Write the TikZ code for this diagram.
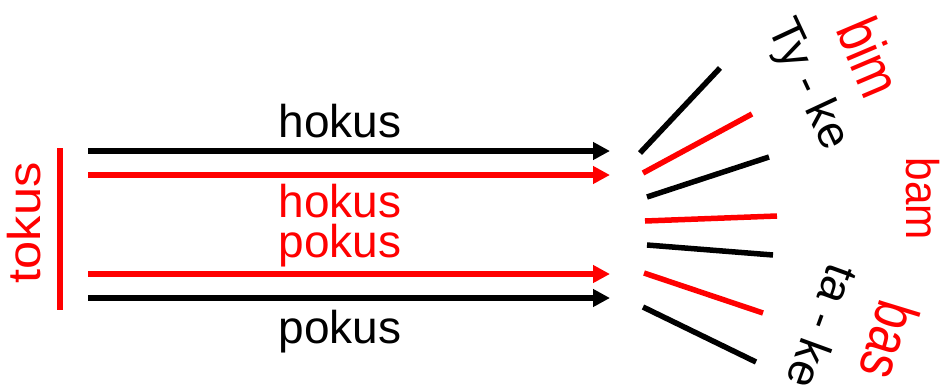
\documentclass[tikz,border=0pt]{standalone}
\usepackage{fontspec}
\setmainfont{Liberation Sans}
\usetikzlibrary{arrows.meta}
\definecolor{myred}{RGB}{255,0,0}
\begin{document}
\begin{tikzpicture}[x=1pt,y=-1pt,
  lbl/.style={font=\fontsize{46}{46}\selectfont, inner sep=0pt},
  arr/.style={line width=5.5pt, -{Triangle[length=17pt,width=17pt]}},
  fan/.style={line width=5.5pt},
  blk/.style={black},
  rd/.style={myred}]
\useasboundingbox (0,0) rectangle (946,389);
% arrows
\coordinate (a1s) at (88,151);  \coordinate (a1e) at (610,151);
\coordinate (a2s) at (88,175);  \coordinate (a2e) at (610,175);
\coordinate (a3s) at (88,274);  \coordinate (a3e) at (610,274);
\coordinate (a4s) at (88,298);  \coordinate (a4e) at (610,298);
\draw[arr,blk] (a1s) -- (a1e);
\draw[arr,rd]  (a2s) -- (a2e);
\draw[arr,rd]  (a3s) -- (a3e);
\draw[arr,blk] (a4s) -- (a4e);
% vertical bar
\coordinate (vt) at (60,148); \coordinate (vb) at (60,310);
\draw[rd,line width=5.5pt] (vt) -- (vb);
\node[lbl,rd,rotate=90,xscale=1.1] (tokus) at (24,223) {tokus};
% labels
\node[lbl,blk,anchor=base] (h1) at (340,137) {hokus};
\node[lbl,rd,anchor=base]  (h2) at (340,217) {hokus};
\node[lbl,rd,anchor=base]  (p1) at (340,257) {pokus};
\node[lbl,blk,anchor=base] (p2) at (340,343) {pokus};
% fan
\coordinate (f1s) at (640,153); \coordinate (f1e) at (720,68);
\coordinate (f2s) at (643,173); \coordinate (f2e) at (752,114);
\coordinate (f3s) at (647,197); \coordinate (f3e) at (769,157);
\coordinate (f4s) at (645,221); \coordinate (f4e) at (777,216);
\coordinate (f5s) at (647,245); \coordinate (f5e) at (773,255);
\coordinate (f6s) at (644,273); \coordinate (f6e) at (763,313);
\coordinate (f7s) at (643,307); \coordinate (f7e) at (756,362);
\draw[fan,blk] (f1s) -- (f1e);
\draw[fan,rd]  (f2s) -- (f2e);
\draw[fan,blk] (f3s) -- (f3e);
\draw[fan,rd]  (f4s) -- (f4e);
\draw[fan,blk] (f5s) -- (f5e);
\draw[fan,rd]  (f6s) -- (f6e);
\draw[fan,blk] (f7s) -- (f7e);
% rotated words
\node[lbl,blk,rotate=-65]  (tyke) at (807,85) {Ty - ke};
\node[lbl,rd,rotate=-67,xscale=1.05,yscale=1.3]  (bim) at (870,57) {bim};
\node[lbl,rd,rotate=-90,xscale=0.92]             (bam) at (923,199) {bam};
\node[lbl,blk,rotate=-110] (take) at (823,327) {ta - ke};
\node[lbl,rd,rotate=-107,xscale=1.05,yscale=1.3] (bas) at (890,341) {bas};
\end{tikzpicture}
\end{document}
